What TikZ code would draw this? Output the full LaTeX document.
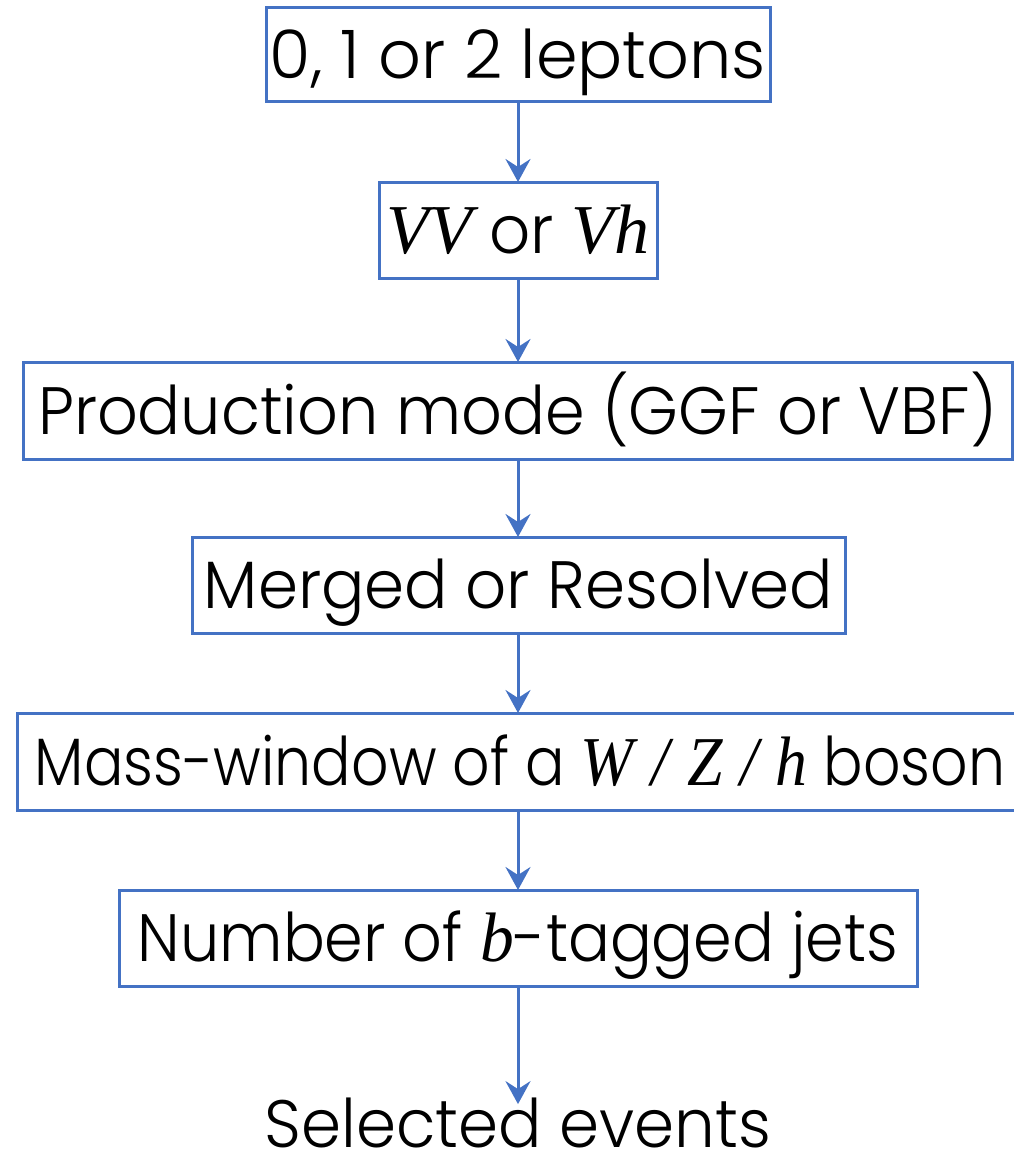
\documentclass[tikz,border=0pt]{standalone}
\usepackage{fontspec}
\setmainfont{Poppins}[UprightFont=* Light, FakeStretch=0.96]
\newfontfamily\mifont{Liberation Serif}
\newcommand{\mi}[1]{{\mifont\itshape\fontsize{35}{38}\selectfont #1}}
\usetikzlibrary{arrows.meta}
\definecolor{boxblue}{HTML}{4472C4}
\begin{document}
\begin{tikzpicture}[x=0.5pt,y=-0.5pt,
  fbox/.style={draw=boxblue, line width=1.5pt, inner sep=0pt, outer sep=0pt, align=center,
    text height=23.5pt, text depth=0pt, font=\fontsize{33.5}{36}\selectfont},
  arr/.style={draw=boxblue, line width=1.5pt, -{Stealth[length=11.5pt,width=12.5pt,inset=4pt]}}]
\useasboundingbox (0,0) rectangle (1013,1156);
\node[fbox, minimum width=252pt, minimum height=47pt] (b1) at (518,55) {\scalebox{1.04}[1]{0, 1 or 2 leptons}};
\node[fbox, minimum width=139pt, minimum height=48pt] (b2) at (518,230) {\mi{VV} or \mi{Vh}};
\node[fbox, minimum width=494.5pt, minimum height=48.5pt] (b3) at (517.5,410.5) {\scalebox{0.99}[1]{Production mode (GGF or VBF)}};
\node[fbox, minimum width=326.5pt, minimum height=48pt] (b4) at (518.5,585) {Merged or Resolved};
\node[fbox, minimum width=503pt, minimum height=48.5pt] (b5) at (520,761.5) {\scalebox{0.91}[1]{Mass-window of a \mi{W\;/\;Z\;/\;h} boson}};
\node[fbox, minimum width=399pt, minimum height=48pt] (b6) at (518,938) {\scalebox{0.965}[1]{Number of \mi{b}-tagged jets}};
\node[font=\fontsize{33.5}{36}\selectfont, inner sep=0pt, text height=23.5pt, text depth=0pt] (b7) at (518,1124) {Selected events};
\draw[arr] (b1.south) -- (b1.south |- b2.north);
\draw[arr] (b1.south |- b2.south) -- (b1.south |- b3.north);
\draw[arr] (b1.south |- b3.south) -- (b1.south |- b4.north);
\draw[arr] (b1.south |- b4.south) -- (b1.south |- b5.north);
\draw[arr] (b1.south |- b5.south) -- (b1.south |- b6.north);
\draw[arr] (b1.south |- b6.south) -- ([yshift=-2pt]b1.south |- b7.north);
\end{tikzpicture}
\end{document}
